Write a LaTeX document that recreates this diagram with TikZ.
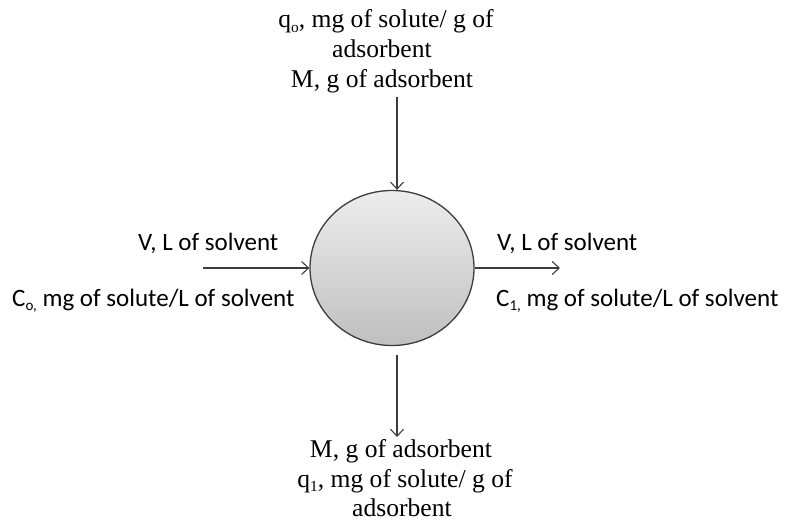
\documentclass[tikz,border=0pt]{standalone}
\usepackage{fontspec}
\usepackage{graphicx}
\setmainfont{Liberation Serif}
\newfontfamily\carlitofont{Carlito}
\usetikzlibrary{shapes.geometric,arrows.meta}
\definecolor{linegray}{HTML}{3C3C3C}
\newcommand\lowsub[1]{\raisebox{-0.35ex}{\scalebox{0.6}{#1}}}
\tikzset{
  serifline/.style={anchor=base, inner sep=0pt, font=\fontsize{25.6}{30}\selectfont},
  sansline/.style={anchor=base west, inner sep=0pt, font=\carlitofont\fontsize{25}{29}\selectfont},
  flow/.style={draw=linegray, line width=1.1pt, -{Straight Barb[length=7pt,width=13pt,line width=1.1pt]}},
  vessel/.style={ellipse, draw=linegray, line width=1.3pt, minimum width=164pt, minimum height=155pt, inner sep=0pt,
    top color=black!7, bottom color=black!25}
}
\begin{document}
\begin{tikzpicture}[x=1pt,y=-1pt]
\useasboundingbox (0,0) rectangle (786,529);
\node[vessel] (tank) at (392,268) {};
% top texts
\node[serifline] (t1) at (386,28) {q\lowsub{o}, mg of solute/ g of};
\node[serifline] (t2) at (382,58) {adsorbent};
\node[serifline] (t3) at (382,88) {M, g of adsorbent};
% bottom texts
\node[serifline] (b1) at (401,457) {M, g of adsorbent};
\node[serifline] (b2) at (405,487) {q\lowsub{1}, mg of solute/ g of};
\node[serifline] (b3) at (402,516) {adsorbent};
% left texts
\node[sansline] (l1) at (138,250) {V, L of solvent};
\node[sansline] (l2) at (12,306) {C\lowsub{o,} mg of solute/L of solvent};
% right texts
\node[sansline] (r1) at (497,250) {V, L of solvent};
\node[sansline] (r2) at (496,306) {C\lowsub{1,} mg of solute/L of solvent};
% connectors
\coordinate (tin) at (397,97);
\coordinate (lin) at (203,268);
\coordinate (rout) at (560,268);
\coordinate (bs) at (397,355);
\coordinate (be) at (397,437);
\draw[flow] (tin) -- (tin |- tank.north);
\draw[flow] (lin) -- (tank.west);
\draw[flow] (tank.east) -- (rout);
\draw[flow] (bs) -- (be);
\end{tikzpicture}
\end{document}
